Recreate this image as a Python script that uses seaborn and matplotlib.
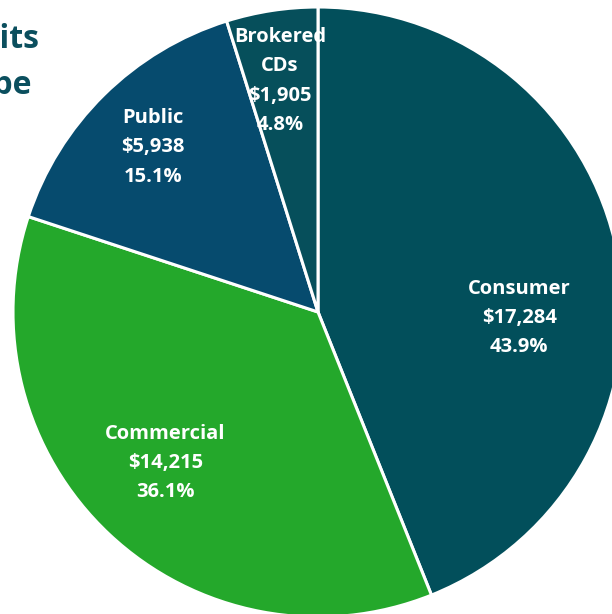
"""
Deposits by type, pie chart cropped like the slide it came from.
"""
import matplotlib
matplotlib.use("Agg")
import matplotlib.pyplot as plt
import seaborn as sns

categories = ["Consumer", "Commercial", "Public", "Brokered\nCDs"]
amounts = [17284, 14215, 5938, 1905]
shares = [43.9, 36.1, 15.1, 4.8]
colors = ["#024F5B", "#24A82B", "#064B6E", "#064F5B"]

sns.set_theme(style="white")
plt.rcParams["font.family"] = ["Open Sans", "DejaVu Sans"]

W, H = 612, 614
fig = plt.figure(figsize=(W / 100, H / 100), dpi=100)

# pie centre ~ (318, 312) px, radius ~ 305 px; part of it runs off the canvas
cx, cy, r = 318, 312, 305
ax = fig.add_axes([(cx - r) / W, (H - cy - r) / H, 2 * r / W, 2 * r / H])
ax.pie(amounts, colors=colors, startangle=90, counterclock=False,
       wedgeprops=dict(edgecolor="white", linewidth=2.2))
ax.set_xlim(-1, 1)
ax.set_ylim(-1, 1)
ax.set_aspect("equal")
ax.axis("off")

label_pos = [(0.66, -0.02), (-0.50, -0.495), (-0.54, 0.54), (-0.125, 0.757)]
for name, amt, pct, (x, y) in zip(categories, amounts, shares, label_pos):
    ax.text(x, y, f"{name}\n${amt:,}\n{pct:.1f}%", ha="center", va="center",
            color="white", fontsize=14.5, fontweight="bold", linespacing=1.62)

title_color = "#0B4F5E"
fig.text(39 / W, 1 - 48 / H, "Deposits", ha="right", va="baseline",
         color=title_color, fontsize=23, fontweight="bold")
fig.text(31 / W, 1 - 94 / H, "by Type", ha="right", va="baseline",
         color=title_color, fontsize=23, fontweight="bold")

fig.savefig("out.png", dpi=100)
